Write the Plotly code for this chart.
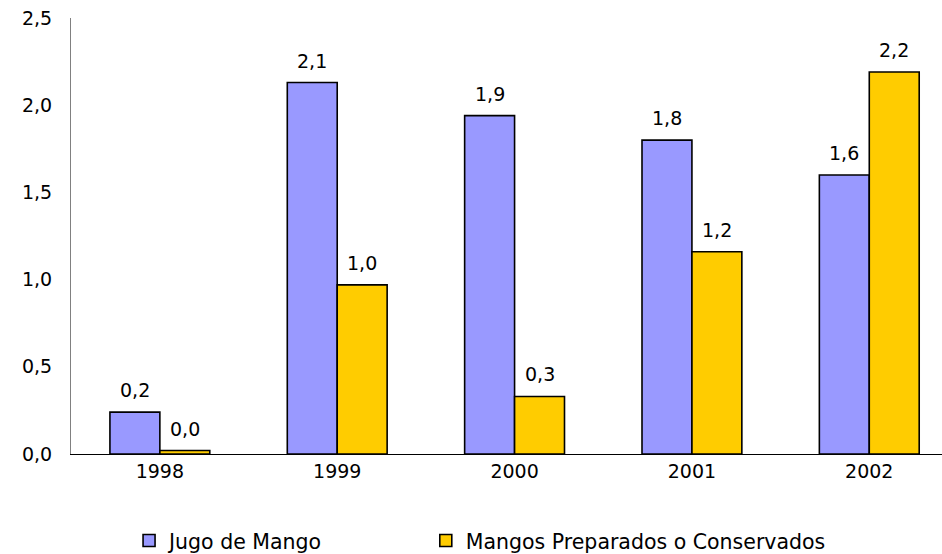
import plotly.graph_objects as go

# Annual values per product
years = ["1998", "1999", "2000", "2001", "2002"]
jugo = [0.24, 2.13, 1.94, 1.80, 1.60]
mangos = [0.02, 0.97, 0.33, 1.16, 2.19]
series_names = ["Jugo de Mango", "Mangos Preparados o Conservados"]
series_colors = ["#9999FF", "#FFCC00"]
y_ticks = [0, 0.5, 1.0, 1.5, 2.0, 2.5]

FONT = "DejaVu Sans, Verdana, sans-serif"
FS = 19

W, H = 942, 554
MARGIN = dict(l=71, r=0, t=18, b=100)
X_RANGE = [-0.501, 4.41]
BARGAP = 0.437

fig = go.Figure()
for name, vals, color, leg in zip(series_names, [jugo, mangos], series_colors,
                                  ["legend", "legend2"]):
    fig.add_trace(go.Bar(
        x=years, y=vals, name=name, legend=leg,
        marker=dict(color=color, line=dict(color="black", width=1.6)),
        hoverinfo="x+y+name",
    ))

# value labels above each bar, offset by half a bar width within the group
cat_px = (W - MARGIN["l"] - MARGIN["r"]) / (X_RANGE[1] - X_RANGE[0])
bar_px = cat_px * (1 - BARGAP) / 2
for k, vals in enumerate([jugo, mangos]):
    shift = (k - 0.5) * bar_px
    for i, v in enumerate(vals):
        fig.add_annotation(
            x=i, y=v, xref="x", yref="y",
            text=f"{v:.1f}".replace(".", ","),
            showarrow=False, xshift=shift, yshift=9,
            yanchor="bottom", xanchor="center",
            font=dict(size=FS, family=FONT, color="black"),
        )

legend_common = dict(
    orientation="h", xref="container", yref="container",
    xanchor="left", y=0.024, yanchor="middle",
    font=dict(size=20.5, family=FONT, color="black"),
    bgcolor="rgba(0,0,0,0)",
)

fig.update_layout(
    width=W, height=H,
    margin=MARGIN,
    paper_bgcolor="white", plot_bgcolor="white",
    font=dict(family=FONT, size=FS, color="black"),
    separators=", ",
    barmode="group", bargap=BARGAP, bargroupgap=0,
    showlegend=True,
    legend=dict(x=0.137, **legend_common),
    legend2=dict(x=0.452, **legend_common),
    xaxis=dict(
        type="category", range=X_RANGE,
        showline=True, linecolor="black", linewidth=1,
        showgrid=False, ticks="", ticklabelstandoff=0,
    ),
    yaxis=dict(
        range=[0, 2.5], tickvals=y_ticks, tickformat=".1f",
        showline=True, linecolor="#808080", linewidth=1,
        showgrid=False, zeroline=False, ticks="",
        ticklabelstandoff=14,
    ),
)

fig.write_html("out.html")
